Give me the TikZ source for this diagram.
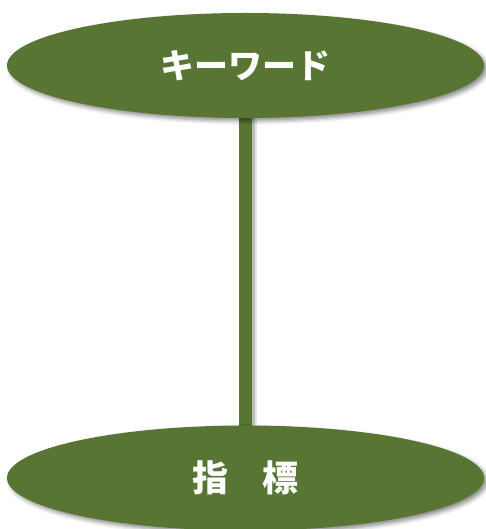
\documentclass[tikz,border=0pt]{standalone}
\usepackage{fontspec}
\newfontfamily\jp{Noto Sans CJK JP}
\usetikzlibrary{shapes.geometric,shadows.blur}
\definecolor{olive}{RGB}{89,117,51}
\tikzset{
  oval/.style={ellipse, fill=olive, draw=none, inner sep=0pt,
    minimum width=477pt, minimum height=105pt,
    text=white, font=\jp\bfseries\fontsize{34}{36}\selectfont,
    blur shadow={shadow xshift=3pt, shadow yshift=-3pt, shadow blur radius=4pt, shadow opacity=45}},
  stem/.style={draw=olive, line width=13pt,
    preaction={draw=black, line width=13pt, draw opacity=0.18, transform canvas={xshift=3pt}},
    preaction={draw=black, line width=13pt, draw opacity=0.10, transform canvas={xshift=5pt}}}
}
\begin{document}
\begin{tikzpicture}[x=1pt,y=1pt]
\useasboundingbox (0,0) rectangle (485,-529);
\coordinate (ta) at (245.5,-100);
\coordinate (ba) at (245.5,-440);
\draw[stem] (ta) -- (ba);
\node[oval] (kw) at (245.5,-65.5) {\raisebox{-2pt}{キーワード}};
\node[oval] (ind) at (245.5,-478) {\fontsize{36}{38}\selectfont\raisebox{-1pt}{指\hspace{0.95em}標}};
\end{tikzpicture}
\end{document}
